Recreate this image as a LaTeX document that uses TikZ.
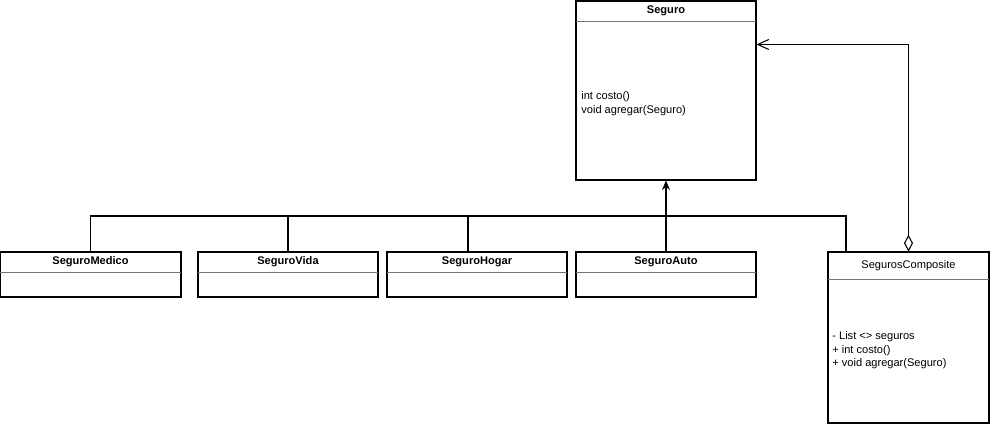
\documentclass[tikz,border=0pt]{standalone}
\usepackage{fontspec}
\setmainfont{Liberation Sans}
\usetikzlibrary{arrows.meta,positioning}

\tikzset{
  head/.style={minimum width=3.6cm, minimum height=0.4cm, inner sep=0pt, font=\fontsize{6.3}{7.7}\selectfont\bfseries},
  box/.style={draw, line width=0.6pt, minimum width=3.6cm, inner sep=0pt},
  divider/.style={draw=black!55, line width=0.7pt},
  link/.style={line width=0.6pt},
  members/.style={align=left, inner sep=0pt, anchor=west}
}

\begin{document}
\begin{tikzpicture}[x=0.02cm, y=-0.02cm, font=\fontsize{6.3}{7.7}\selectfont]
  \useasboundingbox (0,0) rectangle (992,425);

  % interfaz
  \node[box, minimum height=3.58cm] (seguroBody) at (666,90.5) {};
  \node[head] (seguro) at (666,11) {Seguro};
  \draw[divider] (seguro.south west) -- (seguro.south east);
  \node[members] (seguroOps) at (581,103.5) {int costo()\\void agregar(Seguro)};

  % hojas
  \node[box, minimum width=3.62cm, minimum height=0.9cm] (medicoBody) at (90.5,274.5) {};
  \node[head, minimum width=3.62cm] (medico) at (90.5,262) {SeguroMedico};
  \node[box, minimum height=0.9cm] (vidaBody) at (288,274.5) {};
  \node[head] (vida) at (288,262) {SeguroVida};
  \node[box, minimum height=0.9cm] (hogarBody) at (477,274.5) {};
  \node[head] (hogar) at (477,262) {SeguroHogar};
  \node[box, minimum height=0.9cm] (autoBody) at (666,274.5) {};
  \node[head] (auto) at (666,262) {SeguroAuto};
  \foreach \n in {medico,vida,hogar,auto}
    \draw[divider] (\n.south west) -- (\n.south east);

  % compuesto
  \node[box, minimum width=3.22cm, minimum height=3.42cm] (compBody) at (908.5,337.5) {};
  \node[head, minimum width=3.22cm, minimum height=0.54cm, font=\fontsize{6.3}{7.7}\selectfont] (comp) at (908.5,265.5) {SegurosComposite};
  \draw[divider] (comp.south west) -- (comp.south east);
  \node[members] (compOps) at (832,350.5) {- List <> seguros\\+ int costo()\\+ void agregar(Seguro)};

  \coordinate (bus) at (666,216);
  \coordinate (compIn) at (846,252);

  % herencia
  \draw[link] (medico.north) |- (bus);
  \draw[link] (vida.north) |- (bus);
  \draw[link] ([xshift=-0.18cm]hogar.north) |- (bus);
  \draw[link] (compIn) |- (bus);
  \draw[link, -{Stealth[length=1.9mm, width=1.6mm]}] (auto.north) -- (seguroBody.south);

  % agregacion
  \draw[link, {Diamond[open, length=3.4mm, width=1.8mm]}-{Straight Barb[length=2.2mm, width=2mm]}]
    (comp.north) |- ([yshift=-0.88cm]seguroBody.north east);
\end{tikzpicture}
\end{document}
